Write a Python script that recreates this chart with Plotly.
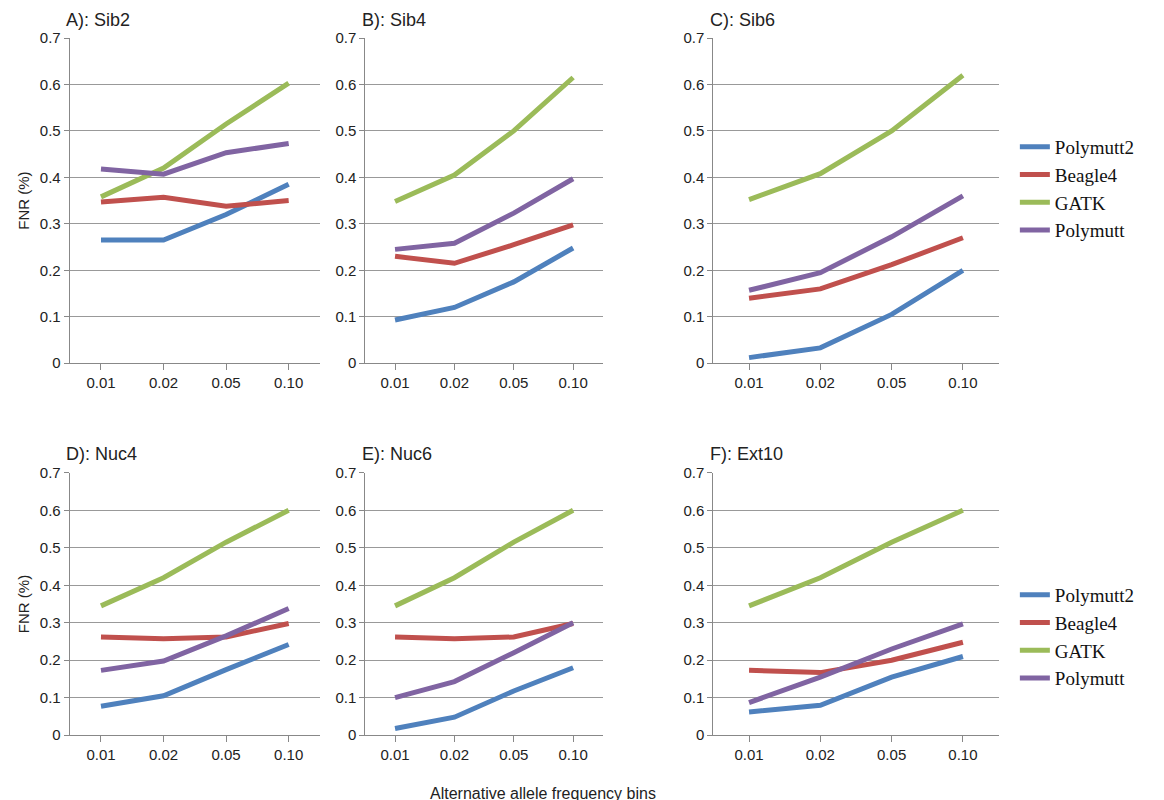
import plotly.graph_objects as go

cats = ["0.01", "0.02", "0.05", "0.10"]
series = ["Polymutt2", "Beagle4", "GATK", "Polymutt"]
colors = ["#4F81BD", "#C0504D", "#9BBB59", "#8064A2"]
titles = ["A): Sib2", "B): Sib4", "C): Sib6", "D): Nuc4", "E): Nuc6", "F): Ext10"]

A = [[.265, .265, .32, .385], [.347, .357, .338, .35], [.358, .42, .515, .603], [.418, .407, .453, .473]]
B = [[.093, .12, .175, .248], [.23, .215, .255, .298], [.348, .405, .5, .615], [.245, .258, .323, .397]]
C = [[.012, .033, .105, .2], [.14, .16, .212, .27], [.352, .408, .5, .62], [.157, .195, .272, .36]]
D = [[.077, .105, .175, .242], [.262, .257, .262, .298], [.345, .42, .515, .6], [.173, .198, .265, .338]]
E = [[.018, .048, .118, .18], [.262, .257, .262, .298], [.345, .42, .515, .6], [.1, .143, .22, .3]]
F = [[.062, .08, .155, .21], [.173, .167, .2, .248], [.345, .42, .515, .6], [.087, .155, .23, .297]]
panels = [A, B, C, D, E, F]

xdom = [(0.053, 0.268), (0.307, 0.511), (0.606, 0.851)]
ydom = [(0.556, 0.9625), (0.091, 0.419)]

fig = go.Figure()
font = dict(family="Liberation Sans, Arial", size=15, color="#222")
for i, data in enumerate(panels):
    r, c = divmod(i, 3)
    n = i + 1
    xa, ya = f"x{n}" if n > 1 else "x", f"y{n}" if n > 1 else "y"
    for s, name in enumerate(series):
        showleg = c == 0
        fig.add_trace(go.Scatter(x=cats, y=data[s], mode="lines", name=name,
                                 line=dict(color=colors[s], width=5),
                                 xaxis=xa, yaxis=ya, showlegend=showleg,
                                 legend="legend" if r == 0 else "legend2"))
    fig.layout[f"xaxis{n if n > 1 else ''}"] = dict(
        domain=xdom[c], anchor=ya, type="category", showline=True, linecolor="#888",
        ticks="outside", ticklen=6, tickcolor="#888", showgrid=False, tickfont=font,
        range=[-0.5, 3.5], automargin=False)
    fig.layout[f"yaxis{n if n > 1 else ''}"] = dict(
        domain=ydom[r], anchor=xa, range=[0, 0.7], dtick=0.1, showline=True, linecolor="#888",
        ticks="outside", ticklen=5, tickcolor="#888", gridcolor="#999", tickfont=font,
        tickformat=".1~f", zeroline=False, automargin=False,
        title=dict(text="FNR (%)", font=dict(family="Liberation Sans, Arial", size=15, color="#222"), standoff=6) if c == 0 else None)
    fig.add_annotation(text=titles[i], xref="paper", yref="paper", x=xdom[c][0] - 0.005, y=ydom[r][1] + 0.008,
                       xanchor="left", yanchor="bottom", showarrow=False,
                       font=dict(family="Liberation Sans, Arial", size=18, color="#222"))

fig.add_annotation(text="Alternative allele frequency bins", xref="paper", yref="paper", x=0.46, y=0.005,
                   xanchor="center", yanchor="bottom", showarrow=False,
                   font=dict(family="Liberation Sans, Arial", size=16, color="#222"))
legfont = dict(family="Liberation Serif, Times New Roman", size=19, color="#111")
fig.update_layout(
    width=1164, height=800, plot_bgcolor="white", paper_bgcolor="white",
    margin=dict(l=0, r=0, t=0, b=0, autoexpand=False),
    legend=dict(x=0.865, y=0.85, xanchor="left", yanchor="top", font=legfont, tracegroupgap=4),
    legend2=dict(x=0.865, y=0.29, xanchor="left", yanchor="top", font=legfont, tracegroupgap=4),
)
fig.write_html("out.html")
